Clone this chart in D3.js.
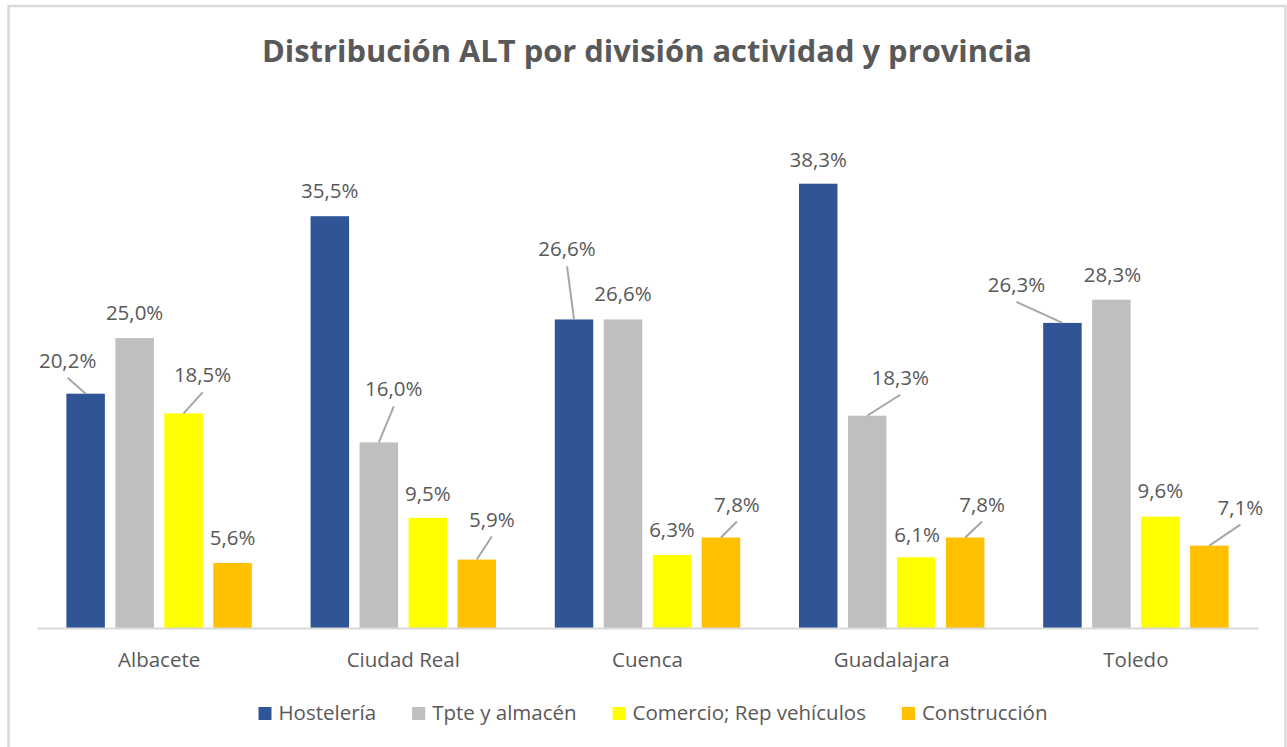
<!DOCTYPE html>
<html>
<head>
<meta charset="utf-8">
<script src="https://cdn.jsdelivr.net/npm/d3@7"></script>
<style>
  body { margin: 0; background: #fff; }
  svg { display: block; }
</style>
</head>
<body>
<div id="chart"></div>
<script>
// data
var provincias = ["Albacete", "Ciudad Real", "Cuenca", "Guadalajara", "Toledo"];
var series = ["Hostelería", "Tpte y almacén", "Comercio; Rep vehículos", "Construcción"];
var hosteleria = [20.2, 35.5, 26.6, 38.3, 26.3];
var tpte = [25.0, 16.0, 26.6, 18.3, 28.3];
var comercio = [18.5, 9.5, 6.3, 6.1, 9.6];
var construccion = [5.6, 5.9, 7.8, 7.8, 7.1];

// label placement (px offset from bar top, leader line flag)
var labelPos = [
    [[-18, -26, 1], [0, -18, 0], [-7, -63, 1], [0, -17, 0], [-46, -31, 1]],
    [[0, -18, 0], [15, -46, 1], [0, -18, 0], [33, -31, 1], [1, -18, 0]],
    [[19, -31, 1], [0, -17, 0], [0, -18, 0], [1, -15, 0], [0, -19, 0]],
    [[0, -18, 0], [15, -33, 1], [16, -26, 1], [17, -26, 1], [31, -31, 1]]
];

var colors = ["#2F5597", "#BFBFBF", "#FFFF00", "#FFC000"];
var values = [hosteleria, tpte, comercio, construccion];

var W = 1287, H = 747;
var plot = { left: 37, right: 1258, top: 106, bottom: 628 };
var textColor = "#595959";
var font = "'Open Sans', 'Noto Sans', sans-serif";

var svg = d3.select("#chart").append("svg")
    .attr("width", W)
    .attr("height", H);

// chart border
svg.append("rect")
    .attr("x", 8.5).attr("y", 6)
    .attr("width", 1277).attr("height", 800)
    .attr("fill", "#fff")
    .attr("stroke", "#D9D9D9")
    .attr("stroke-width", 2.5);

// title
svg.append("text")
    .attr("x", 647).attr("y", 62)
    .attr("text-anchor", "middle")
    .attr("font-family", font)
    .attr("font-weight", "bold")
    .attr("font-size", 31)
    .attr("fill", textColor)
    .attr("textLength", 770)
    .attr("lengthAdjust", "spacingAndGlyphs")
    .text("Distribución ALT por división actividad y provincia");

var x0 = d3.scaleBand()
    .domain(provincias)
    .range([plot.left, plot.right]);

var x1 = d3.scaleBand()
    .domain(series)
    .range([0, x0.bandwidth()])
    .paddingInner(0.214)
    .paddingOuter(0.6);

var y = d3.scaleLinear()
    .domain([0, 45])
    .range([plot.bottom, plot.top]);

// bars
var groups = svg.selectAll("g.series")
    .data(series)
    .enter()
    .append("g")
    .attr("class", "series")
    .attr("fill", function(d, i) { return colors[i]; });

groups.selectAll("rect")
    .data(function(d, i) {
        return provincias.map(function(p, j) {
            return { serie: d, s: i, prov: p, c: j, v: values[i][j] };
        });
    })
    .enter()
    .append("rect")
    .attr("x", function(d) { return x0(d.prov) + x1(d.serie); })
    .attr("y", function(d) { return y(d.v); })
    .attr("width", x1.bandwidth())
    .attr("height", function(d) { return y(0) - y(d.v); });

// x axis
var xAxis = d3.axisBottom(x0).tickSize(0).tickPadding(24);
var ax = svg.append("g")
    .attr("transform", "translate(0," + plot.bottom + ")")
    .call(xAxis);
ax.select(".domain").attr("stroke", "#D9D9D9").attr("stroke-width", 2);
ax.selectAll("text")
    .attr("font-family", font)
    .attr("font-size", 20.5)
    .attr("fill", textColor);

// data labels
var pts = [];
series.forEach(function(s, i) {
    provincias.forEach(function(p, j) {
        var bx = x0(p) + x1(s) + x1.bandwidth() / 2;
        var by = y(values[i][j]);
        var pos = labelPos[i][j];
        pts.push({ v: values[i][j], bx: bx, by: by, lx: bx + pos[0], ly: by + pos[1], leader: pos[2] });
    });
});

svg.append("g").selectAll("line")
    .data(pts.filter(function(d) { return d.leader; }))
    .enter()
    .append("line")
    .attr("x1", function(d) { return d.bx; })
    .attr("y1", function(d) { return d.by; })
    .attr("x2", function(d) { return d.lx; })
    .attr("y2", function(d) { return d.ly + 10; })
    .attr("stroke", "#A6A6A6")
    .attr("stroke-width", 2);

svg.append("g").selectAll("text")
    .data(pts)
    .enter()
    .append("text")
    .attr("x", function(d) { return d.lx; })
    .attr("y", function(d) { return d.ly; })
    .attr("text-anchor", "middle")
    .attr("font-family", font)
    .attr("font-size", 20.5)
    .attr("fill", textColor)
    .text(function(d) { return d.v.toFixed(1).replace(".", ",") + "%"; });

// legend
var legend = svg.append("g");
var lx = 0;
series.forEach(function(s, i) {
    var item = legend.append("g").attr("transform", "translate(" + lx + ",0)");
    item.append("rect")
        .attr("x", 0).attr("y", -13)
        .attr("width", 13).attr("height", 13)
        .attr("fill", colors[i]);
    var t = item.append("text")
        .attr("x", 20).attr("y", 0)
        .attr("font-family", font)
        .attr("font-size", 20.5)
        .attr("fill", textColor)
        .text(s);
    lx += 20 + t.node().getComputedTextLength() + 36;
});
lx -= 36;
legend.attr("transform", "translate(" + (653 - lx / 2) + ",720)");
</script>
</body>
</html>
